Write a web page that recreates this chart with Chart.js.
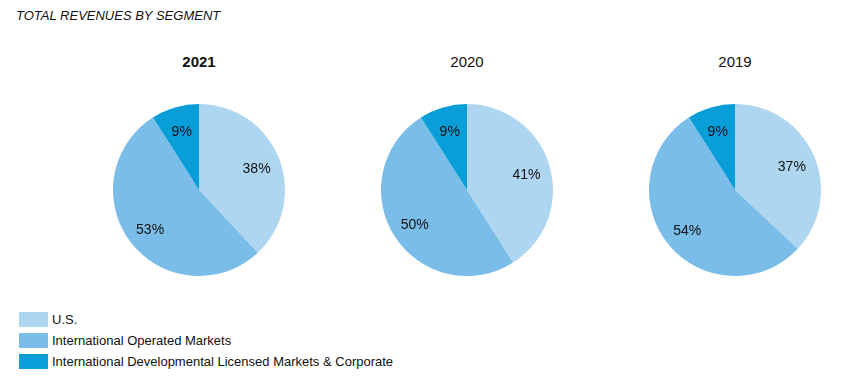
<!DOCTYPE html>
<html>
<head>
<meta charset="utf-8">
<script src="https://cdn.jsdelivr.net/npm/chart.js@4"></script>
<style>
  html, body { margin: 0; padding: 0; background: #fff; }
  body { width: 848px; height: 383px; position: relative; overflow: hidden; font-family: "Liberation Sans", Arial, sans-serif; color: #111; }
  .title { position: absolute; left: 16px; top: 8px; font-size: 13px; font-style: italic; line-height: 16px; }
  .year { position: absolute; width: 120px; text-align: center; font-size: 15px; top: 53px; line-height: 18px; }
  .pie { position: absolute; width: 172px; height: 172px; top: 104px; }
  .legend { position: absolute; left: 19px; top: 312px; }
  .row { position: relative; height: 21px; }
  .sw { position: absolute; left: 0; top: 0; width: 29px; height: 15px; }
  .lt { position: absolute; left: 33px; top: -1px; font-size: 13px; line-height: 17px; white-space: nowrap; }
</style>
</head>
<body>
<div class="title">TOTAL REVENUES BY SEGMENT</div>
<div id="years"></div>
<div id="pies"></div>
<div class="legend" id="legend"></div>
<script>
const segments = ["U.S.", "International Operated Markets", "International Developmental Licensed Markets & Corporate"];
const colors = ["#AED6F1", "#7ABDE8", "#0A9ED9"];
const years = ["2021", "2020", "2019"];
const values2021 = [38, 53, 9];
const values2020 = [41, 50, 9];
const values2019 = [37, 54, 9];
const seriesByYear = [values2021, values2020, values2019];
const centersX = [199, 467, 735];

const labelPlugin = {
  id: 'sliceLabels',
  afterDatasetsDraw(chart) {
    const ctx = chart.ctx;
    const meta = chart.getDatasetMeta(0);
    const data = chart.data.datasets[0].data;
    ctx.save();
    ctx.font = '14px "Liberation Sans", Arial, sans-serif';
    ctx.fillStyle = '#111';
    ctx.textAlign = 'center';
    ctx.textBaseline = 'middle';
    meta.data.forEach((arc, i) => {
      const p = arc.getProps(['x', 'y', 'startAngle', 'endAngle', 'outerRadius'], true);
      const mid = (p.startAngle + p.endAngle) / 2;
      const r = p.outerRadius * 0.72;
      ctx.fillText(data[i] + '%', p.x + Math.cos(mid) * r, p.y + Math.sin(mid) * r + 2);
    });
    ctx.restore();
  }
};

const yearsDiv = document.getElementById('years');
const piesDiv = document.getElementById('pies');
years.forEach((y, k) => {
  const t = document.createElement('div');
  t.className = 'year';
  t.style.left = (centersX[k] - 60) + 'px';
  t.textContent = y;
  if (k === 0) t.style.fontWeight = 'bold';
  yearsDiv.appendChild(t);

  const wrap = document.createElement('div');
  wrap.className = 'pie';
  wrap.style.left = (centersX[k] - 86) + 'px';
  const c = document.createElement('canvas');
  wrap.appendChild(c);
  piesDiv.appendChild(wrap);

  new Chart(c, {
    type: 'pie',
    data: {
      labels: segments,
      datasets: [{ data: seriesByYear[k], backgroundColor: colors, borderWidth: 0 }]
    },
    options: {
      responsive: true,
      maintainAspectRatio: false,
      animation: false,
      layout: { padding: 0 },
      plugins: { legend: { display: false }, tooltip: { enabled: false } }
    },
    plugins: [labelPlugin]
  });
});

const legend = document.getElementById('legend');
segments.forEach((s, i) => {
  const row = document.createElement('div');
  row.className = 'row';
  const sw = document.createElement('div');
  sw.className = 'sw';
  sw.style.background = colors[i];
  const lt = document.createElement('div');
  lt.className = 'lt';
  lt.textContent = s;
  row.appendChild(sw);
  row.appendChild(lt);
  legend.appendChild(row);
});
</script>
</body>
</html>
